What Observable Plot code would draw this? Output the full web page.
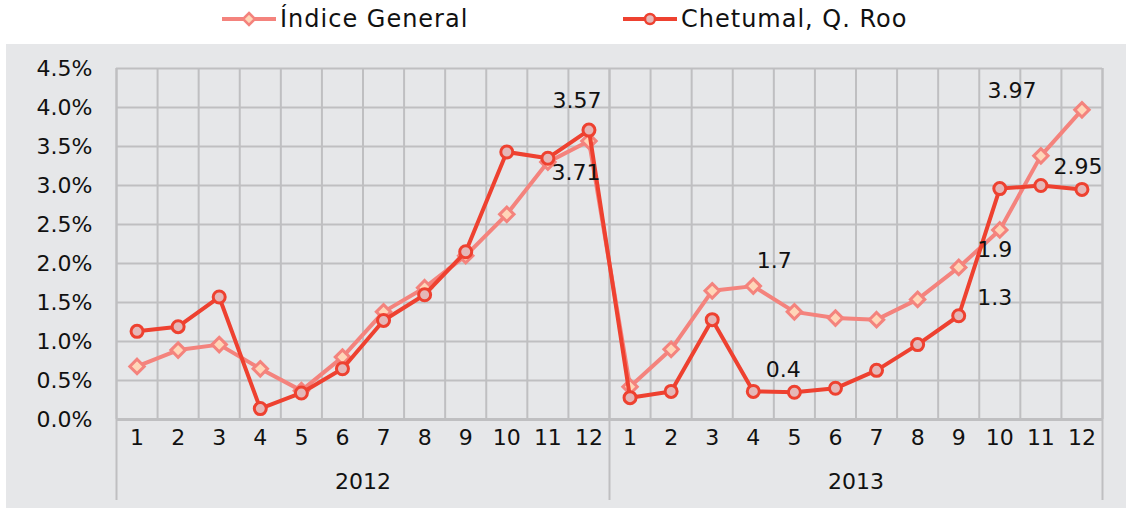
<!DOCTYPE html>
<html><head><meta charset="utf-8">
<script src="https://cdn.jsdelivr.net/npm/d3@7"></script>
<script src="https://cdn.jsdelivr.net/npm/@observablehq/plot@0.6"></script>
<style>
body{margin:0;background:#fff;font-family:"DejaVu Sans",sans-serif;}
#legend{position:relative;height:44px;width:1129px;}
.item{position:absolute;top:0;height:38px;display:flex;align-items:center;font-size:24px;letter-spacing:1px;color:#111;white-space:nowrap;}
.item svg{margin-right:4px;}
#chart{margin-left:6px;line-height:0;}
</style></head><body>
<div id="legend"></div><div id="chart"></div>
<script>
const years = ["2012", "2013"];
const months = [1,2,3,4,5,6,7,8,9,10,11,12];
const seriesNames = ["Índice General", "Chetumal, Q. Roo"];
const indiceGeneral = [0.68,0.89,0.96,0.65,0.37,0.80,1.38,1.69,2.10,2.63,3.30,3.57,
                       0.42,0.90,1.65,1.71,1.38,1.30,1.28,1.54,1.95,2.43,3.38,3.97];
const chetumal = [1.13,1.19,1.57,0.14,0.34,0.65,1.27,1.60,2.15,3.43,3.35,3.71,
                  0.28,0.36,1.28,0.36,0.35,0.40,0.63,0.96,1.33,2.96,3.00,2.95];
const yTicks = [0,0.5,1,1.5,2,2.5,3,3.5,4,4.5];
const dataLabels = [
  {serie: 0, index: 11, text: "3.57"},
  {serie: 1, index: 11, text: "3.71"},
  {serie: 0, index: 15, text: "1.7"},
  {serie: 1, index: 15, text: "0.4"},
  {serie: 0, index: 20, text: "1.9"},
  {serie: 1, index: 20, text: "1.3"},
  {serie: 0, index: 23, text: "3.97"},
  {serie: 1, index: 23, text: "2.95"}
];

const colIndice = "#F4837D", fillIndice = "#FFD6B8";
const colChet = "#EE4130", fillChet = "#E4B8B8";
const grid = "#BFBFC1";

function rows(values, serie) {
  const out = [];
  years.forEach((y, yi) => months.forEach((m, mi) => {
    const i = yi * months.length + mi;
    out.push({serie, year: y, month: m, pos: i + 0.5, value: values[i]});
  }));
  return out;
}
const rI = rows(indiceGeneral, seriesNames[0]);
const rC = rows(chetumal, seriesNames[1]);
const allRows = [rI, rC];
const n = rI.length;

// label offsets (pixels), in the order of dataLabels
const offsets = [[-12,-40],[-13,43],[21,-25],[30,-21],[36,-17],[36,-18],[-70,-19],[-4,-22]];

const labelMarks = dataLabels.map((l, k) => Plot.text([allRows[l.serie][l.index]], {
  x: "pos", y: "value", text: () => l.text, dx: offsets[k][0], dy: offsets[k][1],
  fill: "#111", fontSize: 22
}));

const boundaries = d3.range(0, n + 1);
const yearBounds = d3.range(0, n + 1, months.length);

const chart = Plot.plot({
  width: 1120, height: 464,
  marginLeft: 110, marginRight: 24, marginTop: 24, marginBottom: 89,
  style: {background: "#E6E7E9", fontFamily: "DejaVu Sans, sans-serif", fontSize: "22px", color: "#111"},
  x: {type: "linear", domain: [0, n], axis: null},
  y: {domain: [0, 4.5], ticks: yTicks, tickFormat: d => d.toFixed(1) + "%", tickSize: 0, tickPadding: 24, label: null},
  marks: [
    Plot.ruleY(yTicks, {stroke: grid, strokeWidth: 2}),
    Plot.ruleX(boundaries, {stroke: grid, strokeWidth: 2}),
    Plot.ruleX(yearBounds, {stroke: grid, strokeWidth: 2, insetBottom: -81}),
    Plot.ruleY([0], {stroke: grid, strokeWidth: 3}),
    Plot.text(rI, {x: "pos", text: d => String(d.month), frameAnchor: "bottom", dy: 25, fill: "#111", fontSize: 22}),
    Plot.text(years, {x: (d, i) => i * months.length + months.length / 2, text: d => d, frameAnchor: "bottom", dy: 69, fill: "#111", fontSize: 22}),
    Plot.axisY({ticks: yTicks, tickFormat: d => d.toFixed(1) + "%", tickSize: 0, tickPadding: 24, fontSize: 22, fill: "#111", label: null}),
    Plot.line(rI, {x: "pos", y: "value", stroke: colIndice, strokeWidth: 4}),
    Plot.dot(rI, {x: "pos", y: "value", symbol: "diamond2", r: 6.5, fill: fillIndice, stroke: colIndice, strokeWidth: 3}),
    Plot.line(rC, {x: "pos", y: "value", stroke: colChet, strokeWidth: 4}),
    Plot.dot(rC, {x: "pos", y: "value", r: 6, fill: fillChet, stroke: colChet, strokeWidth: 3}),
    ...labelMarks
  ]
});
document.getElementById("chart").appendChild(chart);

// legend
const legend = document.getElementById("legend");
const legendDefs = [
  {name: seriesNames[0], left: 222, color: colIndice, fill: fillIndice, shape: "diamond"},
  {name: seriesNames[1], left: 623, color: colChet, fill: fillChet, shape: "circle"}
];
legendDefs.forEach(d => {
  const div = document.createElement("div");
  div.className = "item";
  div.style.left = d.left + "px";
  const sym = d.shape === "diamond"
    ? `<polygon points="27,4 33,10 27,16 21,10" fill="${d.fill}" stroke="${d.color}" stroke-width="2.5"/>`
    : `<circle cx="27" cy="10" r="5" fill="${d.fill}" stroke="${d.color}" stroke-width="2.5"/>`;
  div.innerHTML = `<svg width="54" height="20"><line x1="0" x2="54" y1="10" y2="10" stroke="${d.color}" stroke-width="4"/>${sym}</svg><span>${d.name}</span>`;
  legend.appendChild(div);
});
</script>
</body></html>
